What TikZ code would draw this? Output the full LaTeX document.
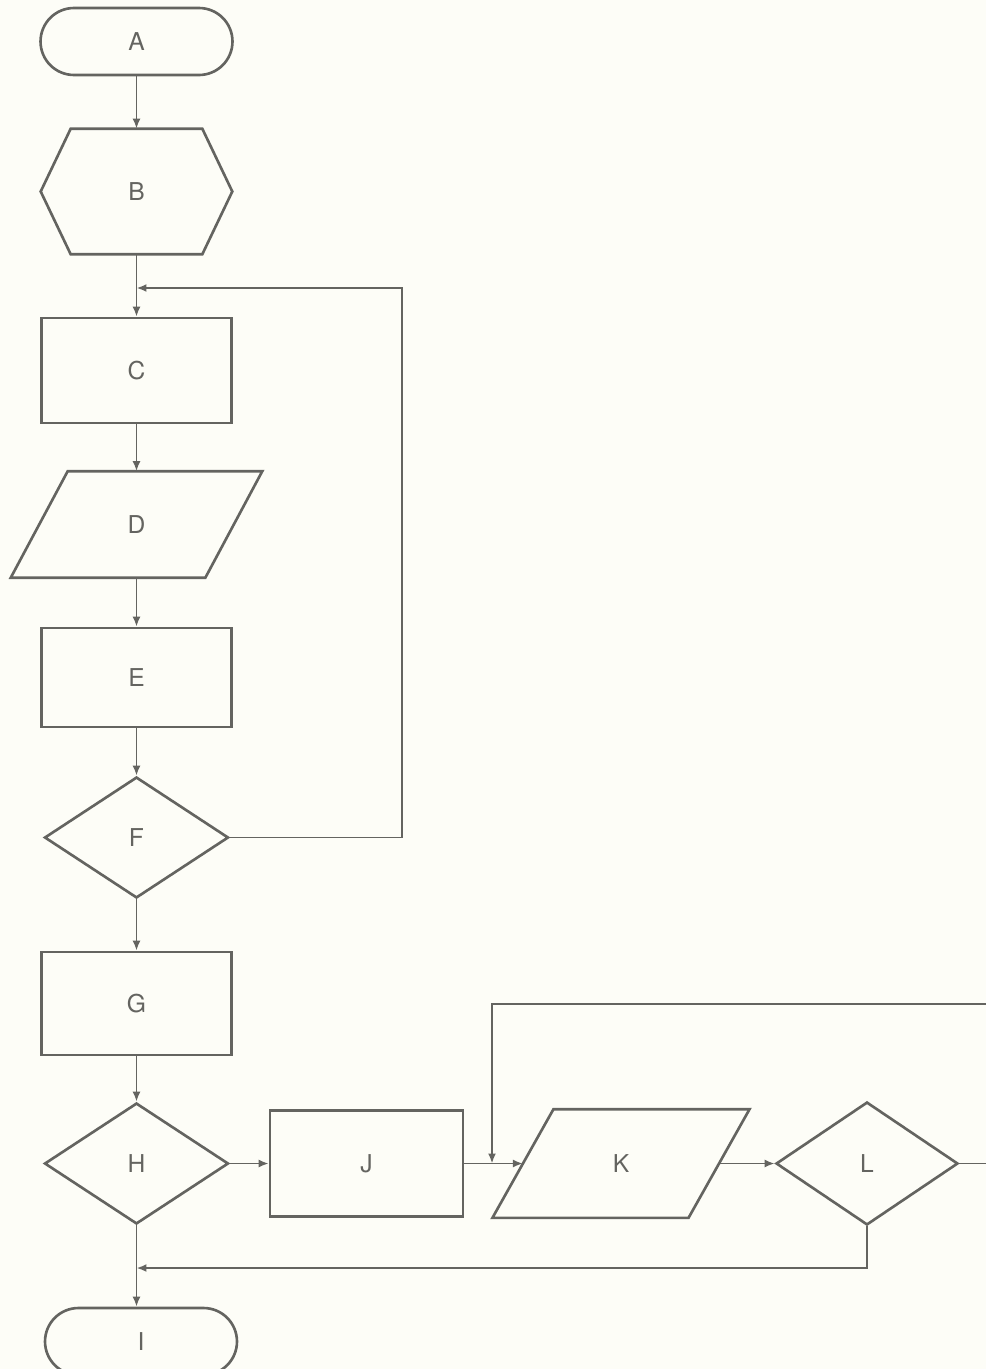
\documentclass[tikz,border=0pt]{standalone}
\usepackage{fontspec}
\setmainfont{TeX Gyre Heros}
\usetikzlibrary{shapes.geometric,arrows.meta,calc}
\definecolor{ink}{RGB}{100,100,96}
\definecolor{paper}{RGB}{253,253,247}
\begin{document}
\begin{tikzpicture}[x=0.02cm,y=-0.02cm,
  shp/.style={draw=ink,line width=1.5pt,text=ink,font=\fontsize{14}{16}\selectfont,inner sep=0pt},
  term/.style={shp,rectangle,rounded corners=0.67cm,minimum width=3.84cm,minimum height=1.34cm},
  proc/.style={shp,rectangle,minimum width=3.8cm},
  dec/.style={shp,diamond,minimum width=3.68cm,minimum height=2.42cm},
  ghost/.style={shp,draw=none,rectangle},
  conn/.style={draw=ink,line width=1.1pt,-{Latex[length=0.2cm,width=0.16cm]}}]
\useasboundingbox (0,0) rectangle (986,1369);
\clip (0,0) rectangle (986,1369);
\fill[paper] (0,0) rectangle (986,1369);

% column nodes
\node[term] (A) at (136.5,41.5) {A};
\node[ghost,minimum width=3.78cm,minimum height=2.46cm] (B) at (136.5,191.5) {B};
\draw[shp] (B.west) -- ($(B.north west)+(30,0)$) -- ($(B.north east)+(-30,0)$) -- (B.east)
  -- ($(B.south east)+(-30,0)$) -- ($(B.south west)+(30,0)$) -- cycle;
\node[proc,minimum height=2.1cm] (C) at (136.5,370.5) {C};
\node[ghost,minimum width=3.84cm,minimum height=2.08cm] (D) at (136.5,524.5) {D};
\draw[shp] ($(D.north west)+(28.5,0)$) -- ($(D.north east)+(28.5,0)$)
  -- ($(D.south east)+(-28.5,0)$) -- ($(D.south west)+(-28.5,0)$) -- cycle;
\node[proc,minimum height=1.98cm] (E) at (136.5,677.5) {E};
\node[dec] (F) at (136.5,837.5) {F};
\node[proc,minimum height=2.06cm] (G) at (136.5,1003.5) {G};
\node[dec] (H) at (136.5,1163.5) {H};
\node[term] (I) at (141,1341.5) {I};

% row nodes
\node[proc,minimum width=3.86cm,minimum height=2.12cm] (J) at (366.5,1163.5) {J};
\node[ghost,minimum width=3.87cm,minimum height=2.12cm] (K) at (621,1163.5) {K};
\draw[shp] ($(K.north west)+(30.5,0)$) -- ($(K.north east)+(30.5,0)$)
  -- ($(K.south east)+(-30.5,0)$) -- ($(K.south west)+(-30.5,0)$) -- cycle;
\node[dec,minimum width=3.64cm,minimum height=2.46cm] (L) at (867,1163.5) {L};

% junctions
\coordinate (j1) at (136.5,288);
\coordinate (j2) at (136.5,1268);
\coordinate (j3) at (492,1163.5);
\coordinate (j4) at (492,1004);

% connectors
\draw[conn] (A.south) -- (B.north);
\draw[conn] (B.south) -- (C.north);
\draw[conn] (F.east) -- ++(172,0) |- (j1);
\draw[conn] (C.south) -- (D.north);
\draw[conn] (D.south) -- (E.north);
\draw[conn] (E.south) -- (F.north);
\draw[conn] (F.south) -- (G.north);
\draw[conn] (G.south) -- (H.north);
\draw[conn] (H.east) -- (J.west);
\draw[conn] (J.east) -- (K.west);
\draw[conn] (K.east) -- (L.west);
\draw[conn] (H.south) -- (H.south |- I.north);
\draw[conn] (L.south) |- (j2);
\draw[conn] (L.east) -- ++(60,0) |- (j4) -- (j3);
\end{tikzpicture}
\end{document}
